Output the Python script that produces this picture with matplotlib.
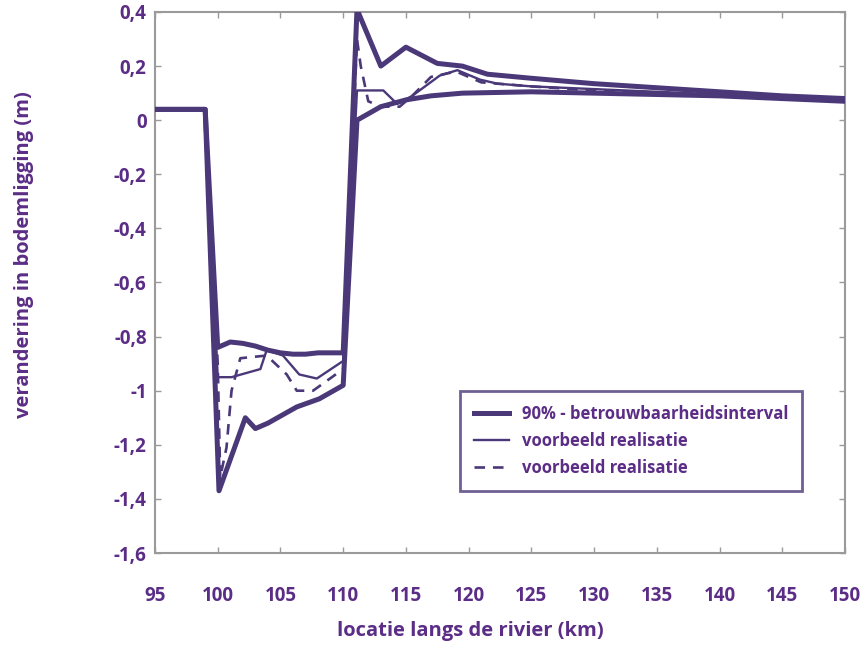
import matplotlib
matplotlib.use("Agg")
import matplotlib.pyplot as plt

# 90% confidence interval - upper bound
upper_x = [95, 99, 100, 101, 102, 103, 104, 105, 106, 107, 108, 109, 110, 111.1, 113, 115, 117.5, 119.5, 121.5, 125, 130, 135, 140, 145, 150]
upper_y = [0.04, 0.04, -0.84, -0.82, -0.825, -0.835, -0.85, -0.86, -0.865, -0.865, -0.86, -0.86, -0.86, 0.41, 0.2, 0.27, 0.21, 0.2, 0.17, 0.155, 0.135, 0.12, 0.105, 0.09, 0.08]

# 90% confidence interval - lower bound
lower_x = [95, 99, 100.1, 102.2, 103, 104, 106.3, 108.1, 110, 111.1, 113, 115, 117, 119.5, 125, 130, 135, 140, 145, 150]
lower_y = [0.04, 0.04, -1.37, -1.1, -1.14, -1.12, -1.06, -1.03, -0.98, 0.0, 0.05, 0.075, 0.09, 0.1, 0.105, 0.1, 0.095, 0.09, 0.08, 0.07]

# example realisation 1 (thin solid)
real1_x = [95, 99, 100, 101.1, 103.4, 103.9, 105.2, 106.5, 107.9, 110, 111.1, 113.2, 114.3, 115.5, 117.7, 119.1, 120.9, 122.3, 125, 130, 135, 140, 145, 150]
real1_y = [0.04, 0.04, -0.95, -0.95, -0.92, -0.85, -0.87, -0.94, -0.955, -0.89, 0.11, 0.11, 0.06, 0.09, 0.165, 0.185, 0.15, 0.135, 0.125, 0.115, 0.105, 0.095, 0.085, 0.075]

# example realisation 2 (dashed)
real2_x = [95, 99, 100, 100.2, 100.7, 101.1, 101.8, 103.9, 105.5, 106.3, 107.6, 110, 111.1, 111.4, 112, 113, 114.5, 115.5, 117, 119, 121, 125, 130, 140, 150]
real2_y = [0.04, 0.04, -0.9, -1.32, -1.21, -1.0, -0.88, -0.87, -0.94, -1.0, -1.0, -0.92, 0.3, 0.2, 0.07, 0.05, 0.05, 0.09, 0.16, 0.18, 0.14, 0.125, 0.11, 0.095, 0.075]

x_ticks = [95, 100, 105, 110, 115, 120, 125, 130, 135, 140, 145, 150]
y_ticks = [0.4, 0.2, 0, -0.2, -0.4, -0.6, -0.8, -1, -1.2, -1.4, -1.6]
y_ticklabels = ["0,4", "0,2", "0", "-0,2", "-0,4", "-0,6", "-0,8", "-1", "-1,2", "-1,4", "-1,6"]

line_c = "#4a3878"
text_c = "#5b2d86"

plt.rcParams['font.family'] = ['Open Sans', 'DejaVu Sans']

fig = plt.figure(figsize=(8.63, 6.45), dpi=100)
ax = fig.add_axes([155/863, 1 - 553/645, 690/863, 541/645])

ax.plot(upper_x, upper_y, color=line_c, lw=3.6, solid_joinstyle='round', label="90% - betrouwbaarheidsinterval", zorder=3)
ax.plot(lower_x, lower_y, color=line_c, lw=3.6, solid_joinstyle='round', zorder=3)
ax.plot(real1_x, real1_y, color=line_c, lw=1.7, label="voorbeeld realisatie", zorder=4)
ax.plot(real2_x, real2_y, color=line_c, lw=1.9, ls=(0, (4, 3)), label="voorbeeld realisatie", zorder=4)

ax.set_xlim(95, 150)
ax.set_ylim(-1.6, 0.4)
ax.set_xticks(x_ticks)
ax.set_xticklabels([str(t) for t in x_ticks])
ax.set_yticks(y_ticks)
ax.set_yticklabels(y_ticklabels)

for s in ax.spines.values():
    s.set_color("#9a9a9a")
    s.set_linewidth(1.5)

ax.tick_params(direction='in', length=4, width=1, color="#9a9a9a", top=True, right=True,
               labelcolor=text_c, labelsize=13.5)
ax.tick_params(axis='x', pad=24)
ax.tick_params(axis='y', pad=6)
for lab in ax.get_xticklabels() + ax.get_yticklabels():
    lab.set_fontweight('bold')

ax.set_xlabel("locatie langs de rivier (km)", color=text_c, fontsize=14.5, fontweight='bold')
ax.xaxis.label.set_verticalalignment('center')
ax.xaxis.set_label_coords(0.457, -0.144)
ax.set_ylabel("verandering in bodemligging (m)", color=text_c, fontsize=14.5, fontweight='bold')
ax.yaxis.label.set_verticalalignment('center')
ax.yaxis.set_label_coords(-0.19, 0.551)

leg = ax.legend(loc='upper left', bbox_to_anchor=(0.442, 0.30), frameon=True, fancybox=False,
                fontsize=12, handlelength=2.1, handletextpad=0.75, labelspacing=0.55,
                borderpad=0.85, borderaxespad=0)
leg.get_frame().set_edgecolor(line_c)
leg.get_frame().set_linewidth(2)
for t in leg.get_texts():
    t.set_color(text_c)
    t.set_fontweight('bold')

fig.savefig("out.png", dpi=100, facecolor='white')
